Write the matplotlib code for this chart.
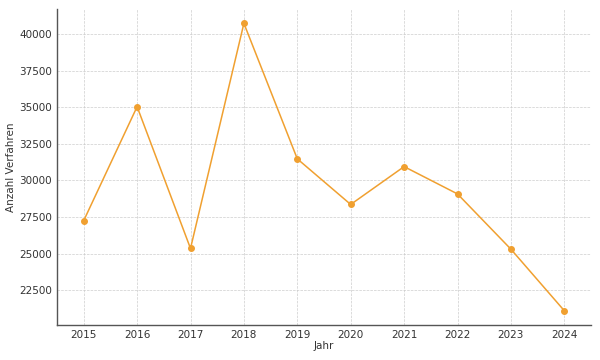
import matplotlib
matplotlib.use("Agg")
import matplotlib.pyplot as plt

# Daten
jahre = [2015, 2016, 2017, 2018, 2019, 2020, 2021, 2022, 2023, 2024]
verfahren = [27250, 35050, 25350, 40750, 31480, 28360, 30950, 29080, 25300, 21090]

fig, ax = plt.subplots(figsize=(6, 3.6), dpi=100)
fig.subplots_adjust(left=0.095, right=0.985, top=0.975, bottom=0.097)

ax.plot(jahre, verfahren, color="#f0a030", linewidth=1.1, marker="o", markersize=4)

ax.set_xticks(jahre)
ax.set_xlim(2014.5, 2024.5)
ax.set_xlabel("Jahr", fontsize=7.5, color="#333333", labelpad=1)
ax.set_ylabel("Anzahl Verfahren", fontsize=7.5, color="#333333", labelpad=2)
ax.tick_params(labelsize=7.5, colors="#333333", length=0, pad=3.5)

ax.grid(True, linestyle="--", linewidth=0.5, color="#c8c8c8", alpha=0.9)
for side in ["top", "right"]:
    ax.spines[side].set_visible(False)
for side in ["left", "bottom"]:
    ax.spines[side].set_color("#555555")
    ax.spines[side].set_linewidth(1.0)

fig.savefig("out.png", dpi=100)
